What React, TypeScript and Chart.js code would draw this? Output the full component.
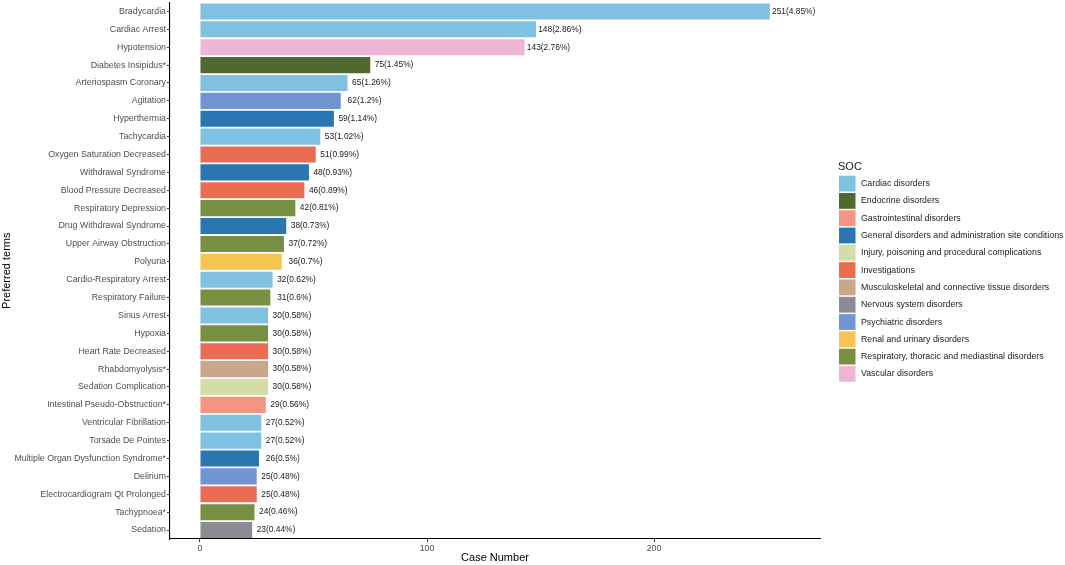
import React, { FC, useEffect, useRef } from 'react'
import Chart from 'chart.js/auto'

const terms = [
  'Bradycardia', 'Cardiac Arrest', 'Hypotension', 'Diabetes Insipidus*', 'Arteriospasm Coronary',
  'Agitation', 'Hyperthermia', 'Tachycardia', 'Oxygen Saturation Decreased', 'Withdrawal Syndrome',
  'Blood Pressure Decreased', 'Respiratory Depression', 'Drug Withdrawal Syndrome', 'Upper Airway Obstruction',
  'Polyuria', 'Cardio-Respiratory Arrest', 'Respiratory Failure', 'Sinus Arrest', 'Hypoxia',
  'Heart Rate Decreased', 'Rhabdomyolysis*', 'Sedation Complication', 'Intestinal Pseudo-Obstruction*',
  'Ventricular Fibrillation', 'Torsade De Pointes', 'Multiple Organ Dysfunction Syndrome*', 'Delirium',
  'Electrocardiogram Qt Prolonged', 'Tachypnoea*', 'Sedation',
]
const cases = [251, 148, 143, 75, 65, 62, 59, 53, 51, 48, 46, 42, 38, 37, 36, 32, 31, 30, 30, 30, 30, 30, 29, 27, 27, 26, 25, 25, 24, 23]
const percents = ['4.85', '2.86', '2.76', '1.45', '1.26', '1.2', '1.14', '1.02', '0.99', '0.93', '0.89', '0.81', '0.73', '0.72', '0.7', '0.62', '0.6', '0.58', '0.58', '0.58', '0.58', '0.58', '0.56', '0.52', '0.52', '0.5', '0.48', '0.48', '0.46', '0.44']
const termSoc = [0, 0, 11, 1, 0, 8, 3, 0, 5, 3, 5, 10, 3, 10, 9, 0, 10, 0, 10, 5, 6, 4, 2, 0, 0, 3, 8, 5, 10, 7]

const socNames = [
  'Cardiac disorders', 'Endocrine disorders', 'Gastrointestinal disorders',
  'General disorders and administration site conditions', 'Injury, poisoning and procedural complications',
  'Investigations', 'Musculoskeletal and connective tissue disorders', 'Nervous system disorders',
  'Psychiatric disorders', 'Renal and urinary disorders', 'Respiratory, thoracic and mediastinal disorders',
  'Vascular disorders',
]
const socColors = [
  '#80C1E2', '#4F6A2F', '#F59483', '#2A76B1', '#D5DCA5', '#E96C53',
  '#C8A888', '#8B8B94', '#7195D0', '#F4C553', '#768F40', '#EDB6D6',
]
const xTicks = [0, 100, 200]

const FONT = "'Liberation Sans', Arial, sans-serif"

const App: FC = () => {
  const canvasRef = useRef<HTMLCanvasElement>(null)
  const chartRef = useRef<Chart | null>(null)

  useEffect(() => {
    document.body.style.margin = '0'
    if (!canvasRef.current) return
    const ctx = canvasRef.current.getContext('2d')
    if (!ctx) return

    // value labels, centred a little past the end of each bar
    const barLabels = {
      id: 'barLabels',
      afterDatasetsDraw(chart: any) {
        const c = chart.ctx
        const xs = chart.scales.x
        const meta = chart.getDatasetMeta(0)
        c.save()
        c.font = `8.4px ${FONT}`
        c.fillStyle = '#1a1a1a'
        c.textAlign = 'center'
        c.textBaseline = 'middle'
        meta.data.forEach((bar: any, i: number) => {
          c.fillText(`${cases[i]}(${percents[i]}%)`, xs.getPixelForValue(cases[i] + 10.5), bar.y)
        })
        c.restore()
      },
    }

    const socLegend = {
      id: 'socLegend',
      afterDraw(chart: any) {
        const c = chart.ctx
        c.save()
        c.fillStyle = '#1a1a1a'
        c.textAlign = 'left'
        c.textBaseline = 'alphabetic'
        c.font = `11px ${FONT}`
        c.fillText('SOC', 838, 169.5)
        c.font = `8.8px ${FONT}`
        c.textBaseline = 'middle'
        socNames.forEach((name, i) => {
          const top = 175.7 + i * 17.3
          c.fillStyle = socColors[i]
          c.fillRect(839, top, 16.5, 15.8)
          c.fillStyle = '#1a1a1a'
          c.fillText(name, 861, top + 8)
        })
        c.restore()
      },
    }

    chartRef.current = new Chart(ctx, {
      type: 'bar',
      data: {
        labels: terms,
        datasets: [
          {
            data: cases,
            backgroundColor: termSoc.map((s) => socColors[s]),
            borderWidth: 0,
            categoryPercentage: 0.9,
            barPercentage: 1,
          },
        ],
      },
      options: {
        indexAxis: 'y',
        animation: false,
        responsive: true,
        maintainAspectRatio: false,
        layout: { padding: { top: 0, right: 245, left: 0, bottom: 0 } },
        plugins: {
          legend: { display: false },
          tooltip: { enabled: false },
        },
        scales: {
          x: {
            type: 'linear',
            min: -13.2,
            max: 273.1,
            afterBuildTicks: (scale: any) => {
              scale.ticks = xTicks.map((v) => ({ value: v }))
            },
            afterFit: (scale: any) => {
              scale.height = 26
            },
            grid: {
              display: true,
              drawOnChartArea: false,
              drawTicks: true,
              tickLength: 3,
              color: '#333333',
              lineWidth: 1,
            },
            border: { display: true, color: '#000000', width: 1.1 },
            ticks: {
              padding: 1.5,
              color: '#4D4D4D',
              font: { family: FONT, size: 8.8 },
            },
            title: {
              display: true,
              text: 'Case Number',
              color: '#000000',
              padding: { top: 0, bottom: 0 },
              font: { family: FONT, size: 11 },
            },
          },
          y: {
            afterFit: (scale: any) => {
              scale.width = 170
              scale.paddingTop = 2.5
              scale.paddingBottom = 0
            },
            grid: {
              display: true,
              offset: false,
              drawOnChartArea: false,
              drawTicks: true,
              tickLength: 3,
              color: '#333333',
              lineWidth: 1,
            },
            border: { display: true, color: '#000000', width: 1.1 },
            ticks: {
              padding: 1,
              autoSkip: false,
              color: '#4D4D4D',
              font: { family: FONT, size: 8.8 },
            },
            title: {
              display: true,
              text: 'Preferred terms',
              color: '#000000',
              padding: { top: 0.5, bottom: 0 },
              font: { family: FONT, size: 11 },
            },
          },
        },
      },
      plugins: [barLabels, socLegend],
    })

    return () => {
      if (chartRef.current) {
        chartRef.current.destroy()
        chartRef.current = null
      }
    }
  }, [])

  return (
    <div style={{ position: 'relative', width: 1065, height: 565, background: '#ffffff' }}>
      <canvas ref={canvasRef}></canvas>
    </div>
  )
}

export default App
